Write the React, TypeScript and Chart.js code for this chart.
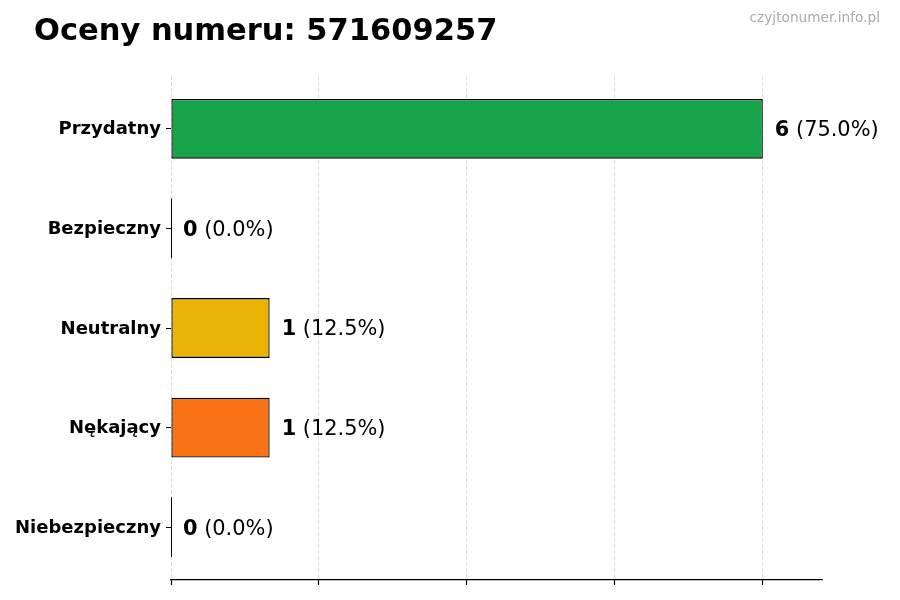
import { useEffect, useRef } from 'react';
import Chart from 'chart.js/auto';

const FONT = '"DejaVu Sans", Verdana, sans-serif';

const TITLE = 'Oceny numeru: 571609257';
const WATERMARK = 'czyjtonumer.info.pl';

const categories = ['Przydatny', 'Bezpieczny', 'Neutralny', 'Nękający', 'Niebezpieczny'];
const counts = [6, 0, 1, 1, 0];
const barColors = ['#16a34a', '#22c55e', '#eab308', '#f97316', '#dc2626'];
const xTickStep = 1.5;

const total = counts.reduce((a, b) => a + b, 0);

// draws "6 (75.0%)" next to every bar, and the edge of empty bars
const valueLabels = {
  id: 'valueLabels',
  afterDatasetsDraw(chart: any) {
    const { ctx } = chart;
    const meta = chart.getDatasetMeta(0);
    const xScale = chart.scales.x;
    ctx.save();
    meta.data.forEach((bar: any, i: number) => {
      const { y, height } = bar.getProps(['y', 'height'], true);
      const endX = xScale.getPixelForValue(counts[i]);
      if (counts[i] === 0) {
        ctx.strokeStyle = '#000';
        ctx.lineWidth = 1;
        ctx.beginPath();
        ctx.moveTo(Math.round(endX) + 0.5, y - height / 2);
        ctx.lineTo(Math.round(endX) + 0.5, y + height / 2);
        ctx.stroke();
      }
      const pct = ((counts[i] / total) * 100).toFixed(1);
      const startX = endX + 12;
      const baseY = y + 7.4;
      ctx.fillStyle = '#000';
      ctx.textAlign = 'left';
      ctx.textBaseline = 'alphabetic';
      ctx.font = `bold 20.9px ${FONT}`;
      const num = String(counts[i]);
      ctx.fillText(num, startX, baseY);
      const w = ctx.measureText(num).width;
      ctx.font = `20.9px ${FONT}`;
      ctx.fillText(` (${pct}%)`, startX + w, baseY);
    });
    ctx.restore();
  },
};

export default function App() {
  const chartRef = useRef<HTMLCanvasElement>(null);
  const chartInstance = useRef<Chart | null>(null);

  useEffect(() => {
    if (!chartRef.current) return;
    if (chartInstance.current) chartInstance.current.destroy();

    const yPad = 0.05 * (categories.length - 1 + 0.6);

    chartInstance.current = new Chart(chartRef.current, {
      type: 'bar',
      data: {
        datasets: [
          {
            data: counts.map((v, i) => ({ x: v, y: i })),
            backgroundColor: barColors,
            borderColor: '#000',
            borderWidth: 1.3,
            borderSkipped: false,
            barPercentage: 0.6,
            categoryPercentage: 1,
          },
        ],
      },
      plugins: [valueLabels],
      options: {
        indexAxis: 'y',
        responsive: false,
        animation: false,
        devicePixelRatio: 1,
        layout: { padding: { top: 76, right: 78, left: 0, bottom: 0 } },
        plugins: {
          legend: { display: false },
          tooltip: { enabled: false },
          title: { display: false },
        },
        scales: {
          x: {
            type: 'linear',
            min: 0,
            max: Math.max(...counts) * 1.1,
            z: 1,
            ticks: { display: false, stepSize: xTickStep, includeBounds: false },
            grid: {
              color: 'rgba(205, 205, 205, 0.75)',
              lineWidth: 0.8,
              tickColor: '#000',
              tickLength: 5,
              tickWidth: 1.2,
            },
            border: { display: true, color: '#000', width: 1.2, dash: [4, 2] },
            afterFit: (scale: any) => {
              scale.height = 20;
            },
          },
          y: {
            type: 'linear',
            reverse: true,
            offset: false,
            min: -0.3 - yPad,
            max: categories.length - 1 + 0.3 + yPad,
            afterBuildTicks: (scale: any) => {
              scale.ticks = categories.map((_, i) => ({ value: i }));
            },
            ticks: {
              color: '#000',
              padding: 5,
              labelOffset: 1,
              font: { family: FONT, size: 18, weight: 'bold' },
              callback: (value: any) => categories[value] ?? '',
            },
            grid: {
              offset: false,
              drawOnChartArea: false,
              drawTicks: true,
              tickColor: '#000',
              tickLength: 5,
              tickWidth: 1,
            },
            border: { display: false },
            afterFit: (scale: any) => {
              scale.width = 171;
            },
          },
        },
      },
    });

    return () => {
      if (chartInstance.current) {
        chartInstance.current.destroy();
        chartInstance.current = null;
      }
    };
  }, []);

  return (
    <div
      style={{
        position: 'absolute',
        left: 0,
        top: 0,
        width: 900,
        height: 600,
        background: '#fff',
        fontFamily: FONT,
      }}
    >
      <div
        style={{
          position: 'absolute',
          left: 34,
          top: 15,
          fontSize: 30.5,
          lineHeight: '30px',
          fontWeight: 'bold',
          color: '#000',
          whiteSpace: 'nowrap',
        }}
      >
        {TITLE}
      </div>
      <div
        style={{
          position: 'absolute',
          right: 20,
          top: 10.5,
          fontSize: 13.7,
          lineHeight: '13.7px',
          color: '#aaaaaa',
          whiteSpace: 'nowrap',
        }}
      >
        {WATERMARK}
      </div>
      <canvas ref={chartRef} width={900} height={600} style={{ display: 'block' }} />
    </div>
  );
}
